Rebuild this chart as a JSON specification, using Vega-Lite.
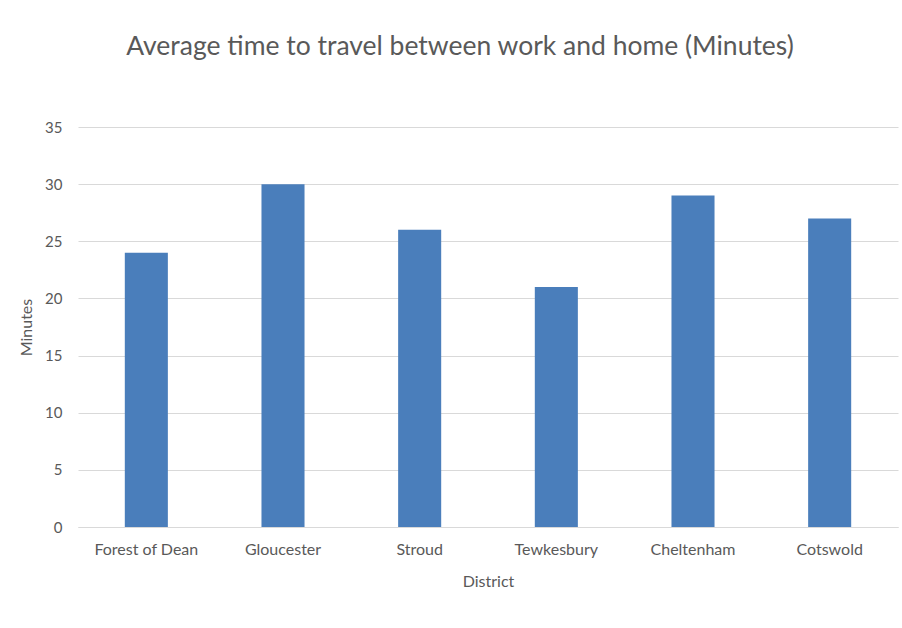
{
  "$schema": "https://vega.github.io/schema/vega-lite/v6.json",
  "autosize": "none",
  "width": 820,
  "height": 400,
  "padding": {"left": 78, "top": 127, "right": 4, "bottom": 101},
  "background": "white",
  "title": {
    "text": "Average time to travel between work and home (Minutes)",
    "font": "Lato",
    "fontSize": 26.5,
    "fontWeight": "normal",
    "color": "#595959",
    "anchor": "middle",
    "dx": -28,
    "offset": 60
  },
  "data": {
    "values": [
      {"District": "Forest of Dean", "Minutes": 24},
      {"District": "Gloucester", "Minutes": 30},
      {"District": "Stroud", "Minutes": 26},
      {"District": "Tewkesbury", "Minutes": 21},
      {"District": "Cheltenham", "Minutes": 29},
      {"District": "Cotswold", "Minutes": 27}
    ]
  },
  "mark": {"type": "bar", "color": "#4A7EBB"},
  "encoding": {
    "x": {
      "field": "District",
      "type": "nominal",
      "sort": null,
      "scale": {"paddingInner": 0.685, "paddingOuter": 0.3425},
      "axis": {
        "labelAngle": 0,
        "labelFont": "Lato",
        "labelFontSize": 16,
        "labelColor": "#595959",
        "labelPadding": 14,
        "ticks": false,
        "domainColor": "#D9D9D9",
        "title": "District",
        "titleFont": "Lato",
        "titleFontSize": 16,
        "titleFontWeight": "normal",
        "titleColor": "#595959",
        "titlePadding": 16
      }
    },
    "y": {
      "field": "Minutes",
      "type": "quantitative",
      "scale": {"domain": [0, 35]},
      "axis": {
        "values": [0, 5, 10, 15, 20, 25, 30, 35],
        "domain": false,
        "ticks": false,
        "gridColor": "#D9D9D9",
        "labelFont": "Lato",
        "labelFontSize": 15,
        "labelColor": "#595959",
        "labelPadding": 16,
        "title": "Minutes",
        "titleFont": "Lato",
        "titleFontSize": 16,
        "titleFontWeight": "normal",
        "titleColor": "#595959",
        "titlePadding": 10
      }
    }
  },
  "config": {"view": {"stroke": null}}
}
